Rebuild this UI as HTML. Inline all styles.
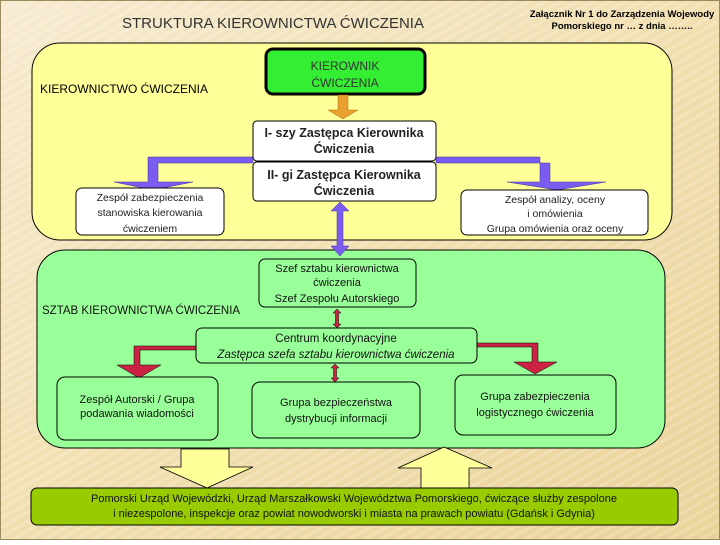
<!DOCTYPE html>
<html><head><meta charset="utf-8"><style>
html,body{margin:0;padding:0}
body{width:720px;height:540px;overflow:hidden;font-family:"Liberation Sans",sans-serif}
</style></head><body>
<svg width="720" height="540" viewBox="0 0 720 540" xmlns="http://www.w3.org/2000/svg" font-family="Liberation Sans, sans-serif">
<defs>
<linearGradient id="bg" x1="0" y1="0" x2="1" y2="1">
<stop offset="0" stop-color="#f6ead0"/><stop offset="0.5" stop-color="#f1dfb0"/><stop offset="1" stop-color="#ead39a"/>
</linearGradient>
<pattern id="st" width="8" height="8" patternUnits="userSpaceOnUse" patternTransform="rotate(60)">
<rect width="3" height="8" fill="#ffffff" opacity="0.18"/>
</pattern>
</defs>
<rect width="720" height="540" fill="url(#bg)"/>
<rect width="720" height="540" fill="url(#st)"/>
<rect x="0.5" y="0.5" width="719" height="539" fill="none" stroke="#9a8a60"/>

<text x="273" y="28" font-size="15" fill="#333" text-anchor="middle">STRUKTURA KIEROWNICTWA ĆWICZENIA</text>
<text x="622" y="17" font-size="9.5" font-weight="bold" text-anchor="middle">Załącznik Nr 1 do Zarządzenia Wojewody</text>
<text x="622" y="29" font-size="9.5" font-weight="bold" text-anchor="middle">Pomorskiego nr … z dnia ……..</text>

<!-- yellow area -->
<rect x="32" y="43" width="640" height="197" rx="28" fill="#ffff99" stroke="#000" stroke-width="1"/>
<text x="40" y="93" font-size="12">KIEROWNICTWO ĆWICZENIA</text>

<rect x="266" y="49" width="159" height="45" rx="7" fill="#33ee33" stroke="#000" stroke-width="3"/>
<text x="345" y="70" font-size="12" text-anchor="middle" fill="#333">KIEROWNIK</text>
<text x="345" y="87" font-size="12" text-anchor="middle" fill="#333">ĆWICZENIA</text>

<polygon points="338,95 348,95 348,110 358,110 343,119 328,110 338,110" fill="#e8a030" stroke="#b07010" stroke-width="0.5"/>

<!-- purple branches -->
<polygon points="253,157 253,163 158,163 158,182 193,182 153,190 114,182 148,182 148,157" fill="#7a5cf0" stroke="#4030a0" stroke-width="0.5"/>
<polygon points="436,157 436,163 550,163 550,182 606,182 557,190 507,182 540,182 540,157 " fill="#7a5cf0" stroke="#4030a0" stroke-width="0.5"/>

<rect x="253" y="121" width="183" height="40" rx="4" fill="#fff" stroke="#000"/>
<text x="344" y="137" font-size="12.5" font-weight="bold" text-anchor="middle" fill="#222">I- szy Zastępca Kierownika</text>
<text x="344" y="153" font-size="12.5" font-weight="bold" text-anchor="middle" fill="#222">Ćwiczenia</text>
<rect x="253" y="162" width="183" height="39" rx="4" fill="#fff" stroke="#000"/>
<text x="344" y="179" font-size="12.5" font-weight="bold" text-anchor="middle" fill="#222">II- gi Zastępca Kierownika</text>
<text x="344" y="195" font-size="12.5" font-weight="bold" text-anchor="middle" fill="#222">Ćwiczenia</text>

<rect x="76" y="188" width="148" height="47" rx="6" fill="#fff" stroke="#000"/>
<text x="150" y="201" font-size="10.5" text-anchor="middle" fill="#222">Zespół zabezpieczenia</text>
<text x="150" y="216" font-size="10.5" text-anchor="middle" fill="#222">stanowiska kierowania</text>
<text x="150" y="232" font-size="10.5" text-anchor="middle" fill="#222">ćwiczeniem</text>

<rect x="461" y="190" width="187" height="45" rx="6" fill="#fff" stroke="#000"/>
<text x="555" y="203" font-size="10.5" text-anchor="middle" fill="#222">Zespół analizy, oceny</text>
<text x="555" y="217" font-size="10.5" text-anchor="middle" fill="#222">i omówienia</text>
<text x="555" y="232" font-size="10.5" text-anchor="middle" fill="#222">Grupa omówienia oraz oceny</text>

<!-- green area -->
<rect x="37" y="250" width="628" height="198" rx="28" fill="#99ff99" stroke="#000"/>
<text x="42" y="314" font-size="11.5" fill="#111">SZTAB KIEROWNICTWA ĆWICZENIA</text>

<!-- purple vertical double arrow -->
<polygon points="340,202 331,211 337,211 337,246 331,246 340,256 349,246 343,246 343,211 349,211" fill="#7a5cf0" stroke="#4030a0" stroke-width="0.5"/>

<rect x="259" y="259" width="157" height="48" rx="6" fill="#99ff99" stroke="#000"/>
<text x="337" y="272" font-size="11" text-anchor="middle" fill="#111">Szef sztabu kierownictwa</text>
<text x="337" y="286" font-size="11" text-anchor="middle" fill="#111">ćwiczenia</text>
<text x="337" y="302" font-size="11" text-anchor="middle" fill="#111">Szef Zespołu Autorskiego</text>

<!-- small red arrows -->
<g fill="#cc2244" stroke="#000" stroke-width="0.5">
<polygon points="337,309 333,313 335.5,313 335.5,324 333,324 337,328 341,324 338.5,324 338.5,313 341,313"/>
<polygon points="335,364 331,368 333.5,368 333.5,378 331,378 335,382 339,378 336.5,378 336.5,368 339,368"/>
<polygon points="196,346 196,350 140,350 140,365 161,365 139,378 117,365 134,365 134,346"/>
<polygon points="477,343 477,347 532,347 532,362 514,362 535,374 557,362 538,362 538,343"/>
</g>

<rect x="196" y="328" width="281" height="35" rx="6" fill="#99ff99" stroke="#000"/>
<text x="336" y="342" font-size="11.5" text-anchor="middle" fill="#111">Centrum koordynacyjne</text>
<text x="336" y="358" font-size="11.5" font-style="italic" text-anchor="middle" fill="#111">Zastępca szefa sztabu kierownictwa ćwiczenia</text>

<rect x="57" y="377" width="161" height="63" rx="8" fill="#99ff99" stroke="#000"/>
<text x="137" y="403" font-size="11" text-anchor="middle" fill="#111">Zespół Autorski / Grupa</text>
<text x="137" y="417" font-size="11" text-anchor="middle" fill="#111">podawania wiadomości</text>
<rect x="252" y="382" width="168" height="56" rx="8" fill="#99ff99" stroke="#000"/>
<text x="336" y="406" font-size="11" text-anchor="middle" fill="#111">Grupa bezpieczeństwa</text>
<text x="336" y="422" font-size="11" text-anchor="middle" fill="#111">dystrybucji informacji</text>
<rect x="455" y="375" width="161" height="60" rx="8" fill="#99ff99" stroke="#000"/>
<text x="535" y="400" font-size="11" text-anchor="middle" fill="#111">Grupa zabezpieczenia</text>
<text x="535" y="416" font-size="11" text-anchor="middle" fill="#111">logistycznego ćwiczenia</text>

<!-- yellow big arrows -->
<polygon points="181,449 229,449 229,467 253,467 207,488 160,467 181,467" fill="#ffff99" stroke="#000" stroke-width="0.8"/>
<polygon points="444,447 492,468 469,468 469,488 421,488 421,468 398,468" fill="#ffff99" stroke="#000" stroke-width="0.8"/>

<rect x="31" y="488" width="647" height="37" rx="6" fill="#99cc00" stroke="#000"/>
<text x="354" y="502" font-size="11" text-anchor="middle" fill="#111">Pomorski Urząd Wojewódzki, Urząd Marszałkowski Województwa Pomorskiego, ćwiczące służby zespolone</text>
<text x="354" y="517" font-size="11" text-anchor="middle" fill="#111">i niezespolone, inspekcje oraz powiat nowodworski i miasta na prawach powiatu (Gdańsk i Gdynia)</text>
</svg>
</body></html>
